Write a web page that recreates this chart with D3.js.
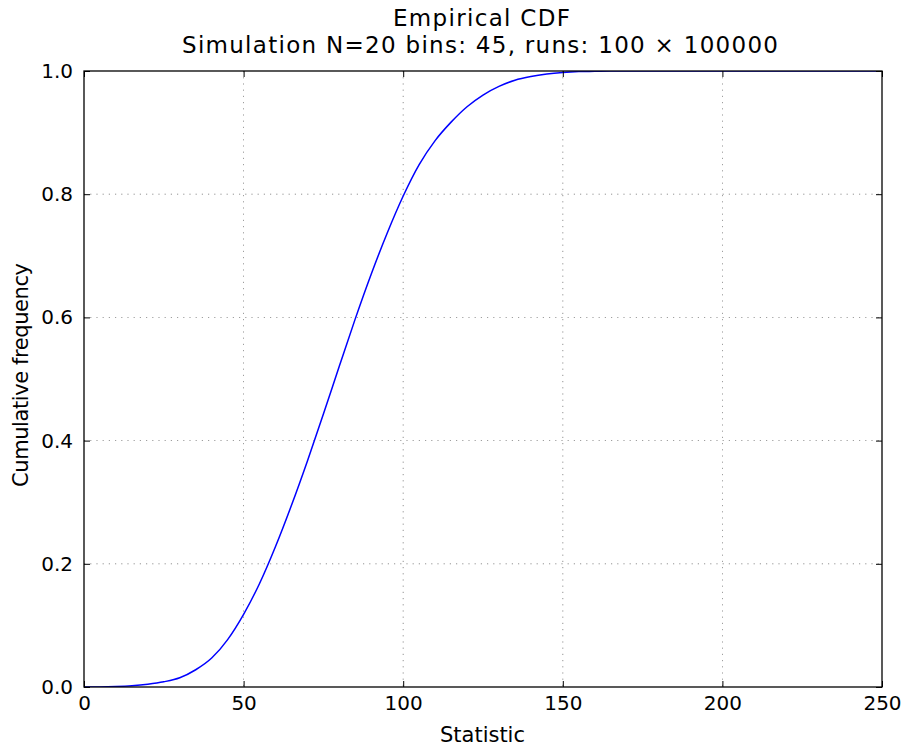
<!DOCTYPE html>
<html><head><meta charset="utf-8">
<script src="https://cdn.jsdelivr.net/npm/d3@7"></script>
<style>body{margin:0;background:#fff;} text{font-family:"DejaVu Sans",sans-serif;fill:#000;}</style>
</head><body>
<svg id="c" width="905" height="751"></svg>
<script>
const statistic = [0,5,10,15,20,25,30,35,40,45,50,55,60,65,70,75,80,85,90,95,100,105,110,115,120,125,130,135,140,145,150,155,160,165,200,250];
const cumFreq = [0,0.0001,0.0007,0.002,0.0045,0.0085,0.015,0.028,0.047,0.077,0.118,0.168,0.228,0.295,0.367,0.443,0.521,0.598,0.6705,0.737,0.797,0.848,0.887,0.917,0.942,0.961,0.975,0.985,0.991,0.995,0.9975,0.999,0.9995,1.0,1.0,1.0];
const xTicks = [0,50,100,150,200,250];
const yTicks = [0.0,0.2,0.4,0.6,0.8,1.0];
const titleLines = ["Empirical CDF","Simulation N=20 bins: 45, runs: 100 \u00d7 100000"];
const xLabel = "Statistic", yLabel = "Cumulative frequency";

const L=84,R=882,T=71,B=687;
const svg=d3.select("#c");
const x=d3.scaleLinear().domain([0,250]).range([L,R]);
const y=d3.scaleLinear().domain([0,1]).range([B,T]);

// grid
const g=svg.append("g");
g.selectAll(".gx").data(xTicks.slice(1,-1)).join("line")
 .attr("x1",d=>x(d)).attr("x2",d=>x(d)).attr("y1",T).attr("y2",B)
 .attr("stroke","#000").attr("stroke-width",0.7).attr("stroke-dasharray","1.2,5").attr("opacity",0.6);
g.selectAll(".gy").data(yTicks.slice(1,-1)).join("line")
 .attr("y1",d=>y(d)).attr("y2",d=>y(d)).attr("x1",L).attr("x2",R)
 .attr("stroke","#000").attr("stroke-width",0.7).attr("stroke-dasharray","1.2,5").attr("opacity",0.6);

// line
svg.append("defs").append("clipPath").attr("id","cp").append("rect").attr("x",L).attr("y",T).attr("width",R-L).attr("height",B-T);
svg.append("path").datum(statistic.map((s,i)=>[s,cumFreq[i]]))
 .attr("clip-path","url(#cp)")
 .attr("d",d3.line().x(d=>x(d[0])).y(d=>y(d[1])).curve(d3.curveMonotoneX))
 .attr("fill","none").attr("stroke","#0000ff").attr("stroke-width",1.5);

// axes (ticks inside)
const fs=20;
const ax=d3.axisBottom(x).tickValues(xTicks).tickSize(-6).tickPadding(9).tickFormat(d3.format("d"));
const axT=d3.axisTop(x).tickValues(xTicks).tickSize(-6).tickFormat("");
const ay=d3.axisLeft(y).tickValues(yTicks).tickSize(-6).tickPadding(11).tickFormat(d3.format(".1f"));
const ayR=d3.axisRight(y).tickValues(yTicks).tickSize(-6).tickFormat("");
function style(sel){sel.select(".domain").remove();sel.selectAll("line").attr("stroke","#000").attr("stroke-width",1);sel.selectAll("text").style("font-size",fs+"px").style("font-family","DejaVu Sans");}
svg.append("g").attr("transform",`translate(0,${B})`).call(ax).call(style);
svg.append("g").attr("transform",`translate(0,${T})`).call(axT).call(style);
svg.append("g").attr("transform",`translate(${L},0)`).call(ay).call(style);
svg.append("g").attr("transform",`translate(${R},0)`).call(ayR).call(style);

svg.append("rect").attr("x",L).attr("y",T).attr("width",R-L).attr("height",B-T).attr("fill","none").attr("stroke","#000").attr("stroke-width",1.3);

svg.append("text").attr("x",481.5).attr("y",26).attr("text-anchor","middle").style("font-size","23px")
 .attr("textLength",177).attr("lengthAdjust","spacing").text(titleLines[0]);
svg.append("text").attr("x",480).attr("y",53).attr("text-anchor","middle").style("font-size","23px")
 .attr("textLength",596).attr("lengthAdjust","spacing").text(titleLines[1]);
svg.append("text").attr("x",482.5).attr("y",741.5).attr("text-anchor","middle").style("font-size","21px")
 .attr("textLength",85).attr("lengthAdjust","spacing").text(xLabel);
svg.append("text").attr("transform",`translate(28,375) rotate(-90)`).attr("text-anchor","middle").style("font-size","21px")
 .attr("textLength",224).attr("lengthAdjust","spacing").text(yLabel);
</script>
</body></html>
